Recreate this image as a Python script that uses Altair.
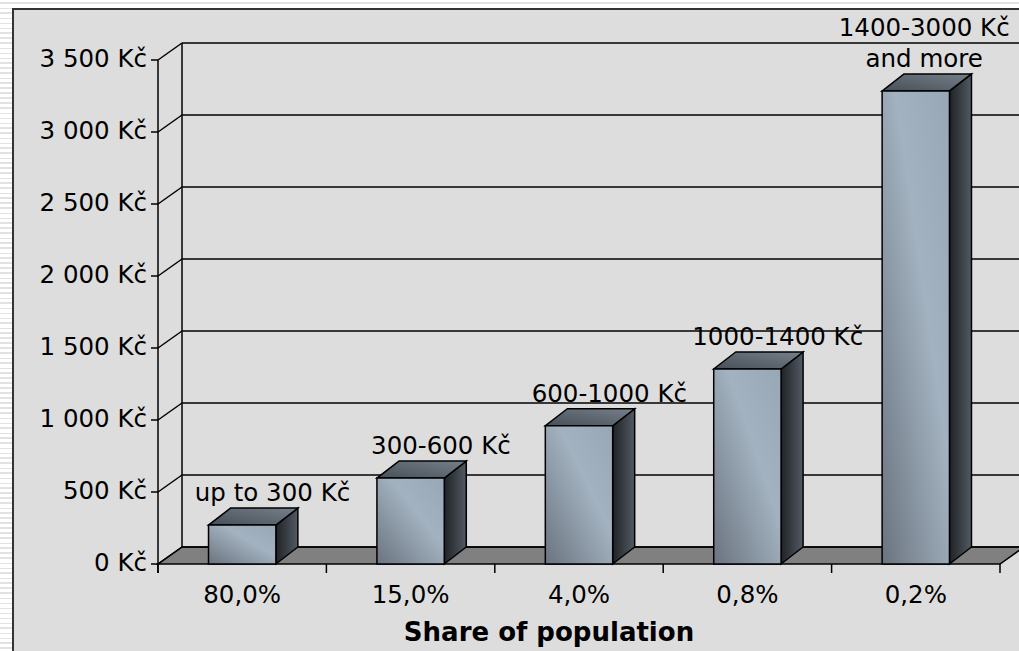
import altair as alt
import pandas as pd

# ---- data ----
shares = ["80,0%", "15,0%", "4,0%", "0,8%", "0,2%"]
amounts = [270, 597, 960, 1354, 3285]
range_labels = ["up to 300 Kč", "300-600 Kč", "600-1000 Kč", "1000-1400 Kč", "1400-3000 Kč\nand more"]
y_ticks = [0, 500, 1000, 1500, 2000, 2500, 3000, 3500]
x_title = "Share of population"

# ---- layout / style constants ----
W, H = 1019, 651
X0, X1 = 158, 1000          # pixel span of the category axis (front plane)
Y0, Y1 = 564, 60            # pixel span of the value axis (front plane)
N = len(shares)
YMAX = y_ticks[-1]
px_x = (X1 - X0) / N
px_y = (Y0 - Y1) / YMAX
WALL_DX, WALL_DY = 24 / px_x, 17 / px_y
BAR_DX, BAR_DY = 22 / px_x, 17 / px_y
HALF = 0.2
XRIGHT = (W - X0) / px_x + 0.3
FONT = "DejaVu Sans"
FS = 24.5
LH = 31
LW = 1.5

xs = alt.Scale(domain=[0, N], range=[X0, X1], nice=False, zero=False)
ys = alt.Scale(domain=[0, YMAX], range=[Y0, Y1], nice=False, zero=False)

def X(f="x", **kw):
    return alt.X(f"{f}:Q", scale=xs, axis=None, **kw)

def Y(f="y", **kw):
    return alt.Y(f"{f}:Q", scale=ys, axis=None, **kw)

one = pd.DataFrame({"a": [0]})

# striped slide background
stops = [alt.GradientStop(offset=0, color="#ffffff")]
k = 0
while True:
    a = (k * 5 + 2.5) / H
    b = (k * 5 + 4.2) / H
    if b >= 1:
        break
    stops += [alt.GradientStop(offset=a, color="#ffffff"),
              alt.GradientStop(offset=a, color="#e2e2e2"),
              alt.GradientStop(offset=b, color="#e2e2e2"),
              alt.GradientStop(offset=b, color="#ffffff")]
    k += 1
stops.append(alt.GradientStop(offset=1, color="#ffffff"))
stripes = alt.Chart(one).mark_rect(
    fill=alt.Gradient(gradient="linear", stops=stops, x1=0, y1=0, x2=0, y2=1)
).encode(x=alt.value(0), x2=alt.value(W), y=alt.value(0), y2=alt.value(H))

frame = alt.Chart(one).mark_rect(fill="#dddddd", stroke="#333333", strokeWidth=2).encode(
    x=alt.value(13), x2=alt.value(W + 30), y=alt.value(9), y2=alt.value(H + 30))

# floor
floor_df = pd.DataFrame({"y": [0, WALL_DY], "x": [0, WALL_DX], "x2": [N, N + WALL_DX]})
floor = alt.Chart(floor_df).mark_area(orient="horizontal", fill="#808080", stroke="black",
                                      strokeWidth=LW).encode(
    y=Y(), x=X(stack=None), x2="x2:Q")

# gridlines on back wall + slants on side wall
grid_df = pd.DataFrame({"v": y_ticks})
grid_df["yb"] = grid_df["v"] + WALL_DY
grid_df["xb"] = WALL_DX
grid_df["xe"] = XRIGHT
grid_df["x0"] = 0.0
back = alt.Chart(grid_df).mark_rule(color="black", strokeWidth=LW).encode(
    x=X("xb"), x2="xe:Q", y=Y("yb"))
slant = alt.Chart(grid_df).mark_rule(color="black", strokeWidth=LW).encode(
    x=X("x0"), x2="xb:Q", y=Y("v"), y2="yb:Q")
ytick_df = grid_df.assign(xt=-7 / px_x)
yticks = alt.Chart(ytick_df).mark_rule(color="black", strokeWidth=LW).encode(
    x=X("xt"), x2="x0:Q", y=Y("v"))
ylabels_df = pd.DataFrame({"v": y_ticks, "x": 0.0,
                           "t": [f"{v:,} Kč".replace(",", " ") for v in y_ticks]})
ylabels = alt.Chart(ylabels_df).mark_text(font=FONT, fontSize=FS, align="right", baseline="middle",
                                          dx=-11, color="black").encode(
    x=X(), y=Y("v"), text="t:N")

walls_df = pd.DataFrame({"x": [0.0, WALL_DX], "y": [-9 / px_y, WALL_DY], "y2": [YMAX, YMAX + WALL_DY]})
walls = alt.Chart(walls_df).mark_rule(color="black", strokeWidth=LW).encode(
    x=X(), y=Y(), y2="y2:Q")

# x ticks and labels
xt_df = pd.DataFrame({"x": list(range(N + 1)), "y": 0.0, "y2": -9 / px_y})
xticks = alt.Chart(xt_df).mark_rule(color="black", strokeWidth=LW).encode(
    x=X(), y=Y(), y2="y2:Q")
xl_df = pd.DataFrame({"x": [i + 0.5 for i in range(N)], "y": 0.0, "t": shares})
xlabels = alt.Chart(xl_df).mark_text(font=FONT, fontSize=FS, align="center", baseline="alphabetic",
                                     dy=39, color="black").encode(
    x=X(), y=Y(), text="t:N")

# bars
side_rows, top_rows, front_rows, lab_rows = [], [], [], []
for i, v in enumerate(amounts):
    c = i + 0.5
    side_rows += [{"bar": i, "x": c + HALF, "y": 0.0, "y2": v},
                  {"bar": i, "x": c + HALF + BAR_DX, "y": BAR_DY, "y2": v + BAR_DY}]
    top_rows += [{"bar": i, "y": v, "x": c - HALF, "x2": c + HALF},
                 {"bar": i, "y": v + BAR_DY, "x": c - HALF + BAR_DX, "x2": c + HALF + BAR_DX}]
    front_rows.append({"bar": i, "x": c - HALF, "x2": c + HALF, "y": 0.0, "y2": v})
    extra_lines = range_labels[i].count("\n")
    lab_rows.append({"x": min(c + 0.18, N - 0.45),
                     "y": v + BAR_DY + extra_lines * LH / px_y,
                     "t": range_labels[i]})

side_grad = alt.Gradient(gradient="linear", x1=0, y1=0, x2=1, y2=0, stops=[
    alt.GradientStop(offset=0, color="#1f2327"), alt.GradientStop(offset=1, color="#525a62")])
top_grad = alt.Gradient(gradient="linear", x1=0, y1=1, x2=1, y2=0, stops=[
    alt.GradientStop(offset=0, color="#474f57"), alt.GradientStop(offset=1, color="#76808a")])
front_grad = alt.Gradient(gradient="linear", x1=0, y1=1, x2=1, y2=0, stops=[
    alt.GradientStop(offset=0, color="#6a747f"), alt.GradientStop(offset=0.6, color="#a3b2c0"),
    alt.GradientStop(offset=1, color="#98a7b5")])

sides = alt.Chart(pd.DataFrame(side_rows)).mark_area(orient="vertical", fill=side_grad, stroke="black",
                                                      strokeWidth=LW).encode(
    x=X(), y=Y(stack=None), y2="y2:Q", detail="bar:N")
tops = alt.Chart(pd.DataFrame(top_rows)).mark_area(orient="horizontal", fill=top_grad, stroke="black",
                                                    strokeWidth=LW).encode(
    y=Y(), x=X(stack=None), x2="x2:Q", detail="bar:N")
fronts = alt.Chart(pd.DataFrame(front_rows)).mark_rect(fill=front_grad, stroke="black",
                                                        strokeWidth=LW).encode(
    x=X(), x2="x2:Q", y=Y(), y2="y2:Q")
blabels = alt.Chart(pd.DataFrame(lab_rows)).mark_text(font=FONT, fontSize=FS, align="center",
                                                       baseline="bottom", dy=-2, lineBreak="\n",
                                                       lineHeight=LH, color="black").encode(
    x=X(), y=Y(), text="t:N")

title = alt.Chart(one).mark_text(text=x_title, font=FONT, fontSize=26, fontWeight="bold",
                                 align="center", baseline="alphabetic", color="black").encode(
    x=alt.value(549), y=alt.value(641))

chart = alt.layer(
    stripes, frame, floor, back, slant, walls, yticks, xticks, ylabels, xlabels,
    sides, tops, fronts, blabels, title
).properties(width=W, height=H, padding=0, autosize="none", background="white").configure_view(stroke=None)

chart.save("out.html", embed_options={"renderer": "svg", "actions": False})
